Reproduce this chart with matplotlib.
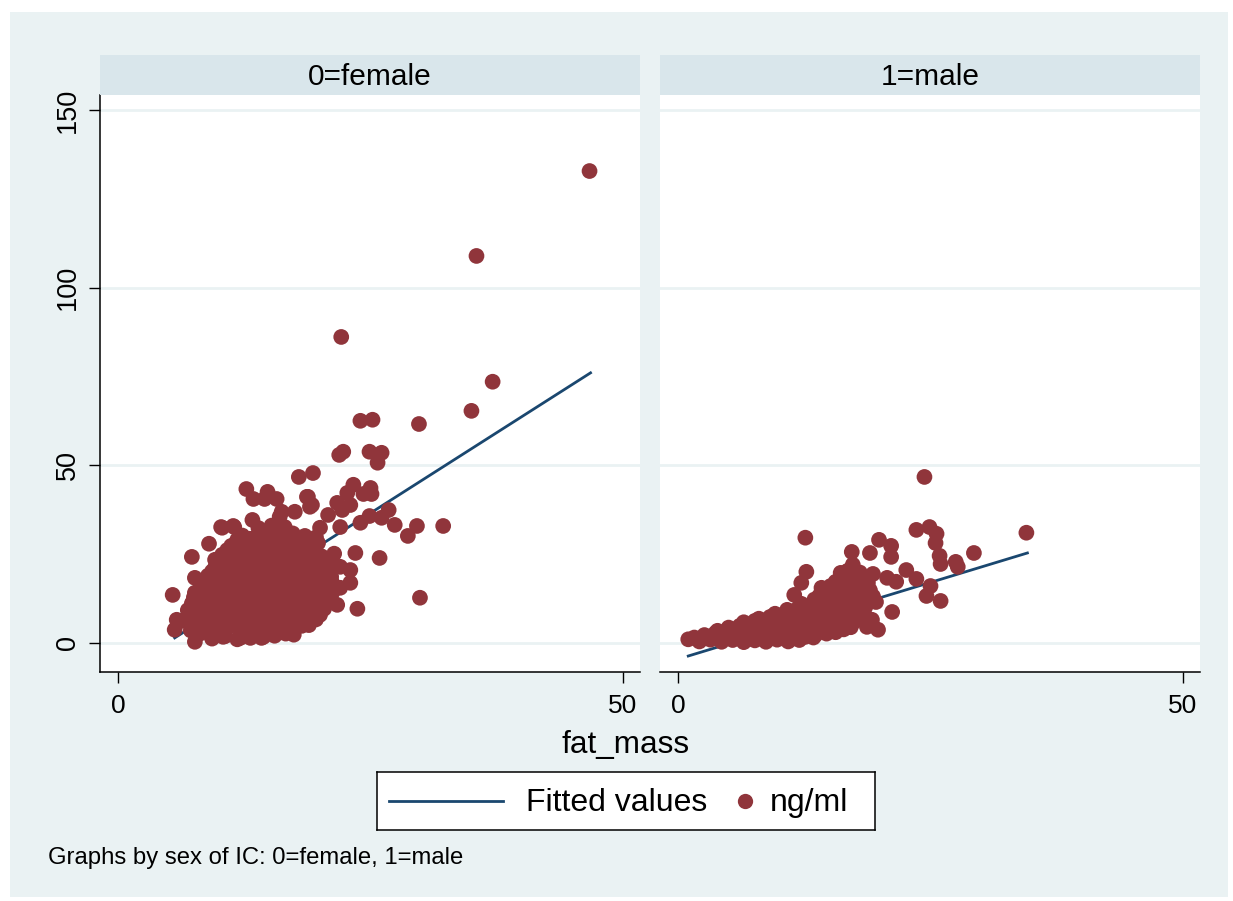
import matplotlib
matplotlib.use("Agg")
import matplotlib.pyplot as plt
import numpy as np
from matplotlib.patches import Rectangle
from matplotlib.lines import Line2D

plt.rcParams['font.family'] = ['Liberation Sans', 'DejaVu Sans']

#%% Data
panel_titles = ["0=female", "1=male"]
x_ticks = [0, 50]
y_ticks = [0, 50, 100, 150]

# female: (fat_mass, ng/ml)
female_points = [
    (46.7, 132.8), (35.5, 108.9), (22.1, 86.1), (37.1, 73.5), (35.0, 65.3), (29.8, 61.6),
    (24.0, 62.5), (25.2, 62.8), (21.9, 52.9), (22.3, 53.8), (24.9, 53.8), (26.1, 53.5),
    (25.7, 50.7), (17.9, 46.7), (19.3, 47.8), (12.7, 43.3), (13.4, 40.5), (14.8, 42.5),
    (14.5, 40.5), (15.7, 40.5), (16.2, 36.9), (17.5, 36.9), (18.7, 41.1), (19.2, 38.8),
    (16.0, 35.5), (13.3, 34.6), (11.4, 32.9), (10.2, 32.6), (23.3, 44.5), (22.7, 42.2),
    (25.0, 43.6), (24.3, 41.9), (25.1, 41.9), (18.8, 41.1), (21.7, 39.4), (23.0, 38.8),
    (22.2, 37.4), (19.0, 38.3), (20.8, 36.0), (26.8, 37.4), (24.9, 35.7), (26.1, 35.2),
    (27.4, 33.2), (29.6, 32.9), (32.2, 32.9), (22.0, 32.6), (20.0, 32.4), (24.0, 33.8),
    (28.7, 30.1), (25.9, 23.9), (23.5, 25.3), (22.0, 21.4), (23.0, 20.5), (21.2, 16.9),
    (23.0, 16.9), (22.0, 15.5), (29.9, 12.7), (21.7, 10.7), (23.7, 9.6), (20.0, 7.9),
    (18.7, 5.9), (20.2, 24.2), (5.4, 13.5), (7.3, 24.2), (9.0, 27.9), (10.3, 32.4),
    (11.5, 32.6), (9.6, 23.4), (7.6, 18.3), (7.6, 14.1), (7.4, 11.3), (5.8, 6.5),
    (5.6, 3.7), (7.6, 0.3), (8.8, 16.9), (9.1, 2.8), (10.4, 1.7), (12.1, 1.4),
    (13.1, 1.4), (14.4, 1.7),
]

female_cluster = [
    (9.3, 1.2), (10.6, 1.9), (11.8, 1.0), (13.0, 2.2), (14.2, 1.4), (15.5, 2.0), (16.6, 2.6),
    (8.1, 2.6), (10.0, 2.9), (12.4, 2.4), (14.8, 2.7), (17.4, 2.3),
    (7.2, 3.5), (8.4, 4.2), (9.7, 3.3), (10.9, 4.5), (12.1, 3.9), (13.4, 3.1), (14.6, 4.4),
    (15.9, 3.6), (17.1, 4.1), (18.2, 4.8),
    (7.8, 5.2), (9.0, 4.8), (10.3, 5.4), (11.5, 5.0), (12.7, 5.5), (14.0, 4.9), (15.2, 5.3),
    (16.5, 5.1), (17.7, 5.6), (18.9, 5.0),
    (6.4, 6.2), (7.6, 7.0), (8.8, 6.1), (10.1, 6.8), (11.3, 5.9), (12.5, 7.2), (13.8, 6.4),
    (15.0, 7.0), (16.2, 6.0), (17.5, 6.9), (18.7, 7.3), (19.6, 6.6),
    (7.0, 8.1), (8.2, 7.8), (9.5, 8.4), (10.7, 7.9), (11.9, 8.3), (13.2, 7.7), (14.4, 8.2),
    (15.6, 8.5), (16.9, 7.9), (18.1, 8.4), (19.3, 8.0),
    (6.9, 9.2), (8.1, 9.9), (9.3, 9.0), (10.6, 10.1), (11.8, 9.4), (13.0, 10.3), (14.3, 9.1),
    (15.5, 9.8), (16.7, 10.4), (18.0, 9.3), (19.2, 10.0), (20.4, 9.6),
    (7.3, 11.1), (8.5, 10.8), (9.8, 11.4), (11.0, 11.0), (12.2, 11.6), (13.5, 10.9), (14.7, 11.3),
    (15.9, 11.7), (17.2, 11.0), (18.4, 11.5), (19.6, 11.2), (20.7, 11.6),
    (7.5, 12.8), (8.7, 12.1), (9.9, 13.0), (11.1, 12.4), (12.4, 13.3), (13.6, 12.2), (14.8, 12.9),
    (16.1, 12.5), (17.3, 13.4), (18.5, 12.0), (19.8, 12.7), (21.0, 13.2),
    (7.9, 14.1), (9.1, 14.5), (10.3, 13.9), (11.6, 14.4), (12.8, 14.0), (14.0, 14.6), (15.3, 14.2),
    (16.5, 13.8), (17.7, 14.5), (19.0, 14.0), (20.2, 14.4), (21.2, 14.1),
    (8.2, 15.3), (9.4, 16.1), (10.6, 15.0), (11.9, 15.8), (13.1, 16.4), (14.3, 15.2), (15.6, 16.0),
    (16.8, 15.5), (18.0, 16.3), (19.3, 15.1), (20.5, 15.9), (21.6, 15.4),
    (8.6, 17.2), (9.8, 16.8), (11.0, 17.4), (12.2, 17.0), (13.5, 17.6), (14.7, 16.9), (15.9, 17.3),
    (17.2, 17.0), (18.4, 17.5), (19.6, 16.9), (20.7, 17.3),
    (8.9, 18.9), (10.1, 18.2), (11.3, 19.0), (12.6, 18.4), (13.8, 19.3), (15.0, 18.1), (16.3, 18.8),
    (17.5, 19.4), (18.7, 18.3), (20.0, 19.0), (21.1, 18.6),
    (9.3, 20.1), (10.5, 20.6), (11.7, 19.9), (13.0, 20.4), (14.2, 20.0), (15.4, 20.7), (16.7, 20.2),
    (17.9, 19.9), (19.1, 20.5), (20.3, 20.1),
    (9.6, 21.2), (10.8, 22.0), (12.0, 21.4), (13.3, 22.3), (14.5, 21.1), (15.7, 21.9), (17.0, 22.4),
    (18.2, 21.3), (19.4, 22.1), (20.7, 21.6),
    (10.0, 23.2), (11.2, 22.9), (12.4, 23.5), (13.7, 23.0), (14.9, 23.4), (16.1, 22.8), (17.4, 23.3),
    (18.6, 23.1), (19.8, 23.6), (21.0, 23.0),
    (10.3, 24.8), (11.5, 24.1), (12.8, 25.0), (14.0, 24.3), (15.2, 25.2), (16.5, 24.0), (17.7, 24.9),
    (18.9, 25.4), (20.1, 24.4), (21.4, 25.1),
    (10.8, 26.1), (12.0, 26.5), (13.2, 25.9), (14.5, 26.4), (15.7, 26.0), (16.9, 26.6), (18.2, 26.1),
    (19.4, 26.5),
    (11.2, 27.3), (12.4, 28.0), (13.7, 27.1), (14.9, 28.2), (16.1, 27.6), (17.4, 28.3), (18.6, 27.4),
    (19.8, 28.1),
    (11.8, 29.0), (13.0, 29.3), (14.3, 28.8), (15.5, 29.2), (16.7, 28.9), (18.0, 29.4), (19.1, 28.9),
    (12.3, 30.2), (13.6, 29.6), (14.8, 30.6), (16.0, 29.9), (17.3, 30.8), (18.5, 30.1), (19.6, 29.7),
    (13.9, 32.3), (15.2, 33.0), (16.5, 32.6),
]

# male: (fat_mass, ng/ml)
male_points = [
    (24.4, 46.7), (34.5, 31.0), (23.6, 31.8), (24.9, 32.6), (25.6, 30.7), (25.5, 28.1),
    (29.3, 25.3), (27.5, 22.8), (27.7, 21.4), (25.9, 24.5), (26.0, 22.2), (25.0, 16.0),
    (24.6, 13.2), (26.0, 11.8), (12.6, 29.6), (12.7, 20.0), (12.2, 16.9), (11.5, 13.5),
    (14.2, 15.5), (16.1, 19.7), (17.2, 25.6), (17.3, 22.0), (17.8, 19.7), (19.0, 25.3),
    (19.9, 29.0), (21.1, 27.3), (21.1, 24.2), (19.3, 19.4), (20.7, 18.3), (21.6, 17.2),
    (22.6, 20.5), (23.6, 18.0), (21.2, 8.7), (18.7, 4.5), (19.8, 3.7), (19.2, 6.5),
    (18.1, 16.9), (18.4, 12.9), (19.6, 11.5),
]

male_cluster = [
    (1.0, 1.0), (2.1, 0.4), (3.2, 0.9), (4.3, 0.3), (5.4, 0.8), (6.5, 0.2), (7.6, 0.7),
    (8.7, 0.3), (9.8, 0.9), (10.9, 0.4), (12.0, 0.8),
    (1.6, 1.5), (2.7, 1.3), (3.8, 1.7), (4.9, 1.4), (6.0, 1.6), (7.1, 1.2), (8.2, 1.7),
    (9.3, 1.4), (10.4, 1.6), (11.5, 1.3), (12.6, 1.7), (13.4, 1.5),
    (2.6, 2.2), (3.7, 2.8), (4.8, 2.1), (5.9, 2.9), (7.0, 2.3), (8.1, 2.7), (9.2, 2.0),
    (10.3, 2.8), (11.4, 2.4), (12.5, 2.9), (13.6, 2.2), (14.7, 2.6), (15.6, 3.0),
    (3.9, 3.4), (5.5, 3.7), (6.6, 3.3), (7.7, 3.8), (8.8, 3.5), (9.9, 3.6), (11.0, 3.3),
    (12.1, 3.8), (13.2, 3.4), (14.3, 3.7), (15.4, 3.5), (16.4, 3.8),
    (5.0, 4.3), (6.1, 4.8), (7.2, 4.1), (8.3, 4.9), (9.4, 4.4), (10.5, 4.7), (11.6, 4.2),
    (12.7, 5.0), (13.8, 4.5), (14.9, 4.1), (16.0, 4.8), (17.1, 4.4),
    (6.5, 5.8), (7.6, 6.2), (8.7, 5.9), (9.8, 6.1), (10.9, 5.7), (12.0, 6.3), (13.1, 5.9),
    (14.2, 6.1), (15.3, 5.8), (16.4, 6.2), (17.4, 5.9),
    (8.0, 6.8), (9.1, 7.3), (10.2, 6.7), (11.3, 7.4), (12.4, 6.9), (13.5, 7.2), (14.6, 6.6),
    (15.7, 7.5), (16.8, 7.0), (17.8, 7.4),
    (9.6, 8.2), (10.7, 8.5), (11.8, 8.1), (12.9, 8.6), (14.0, 8.3), (15.1, 8.4), (16.2, 8.0),
    (17.3, 8.5), (18.2, 8.2),
    (10.8, 9.3), (11.9, 9.8), (13.0, 9.2), (14.1, 9.9), (15.2, 9.4), (16.3, 9.7), (17.4, 9.1),
    (18.5, 9.8),
    (12.2, 11.0), (13.3, 10.7), (14.4, 11.2), (15.5, 10.8), (16.6, 11.1), (17.7, 10.6), (18.7, 11.0),
    (13.5, 12.2), (14.6, 11.7), (15.7, 12.4), (16.8, 11.9), (17.9, 12.3), (18.9, 11.8),
    (14.0, 13.3), (15.1, 13.1), (16.2, 13.5), (17.3, 13.2), (18.4, 13.4), (19.3, 13.1),
    (14.6, 14.7), (15.7, 14.2), (16.8, 14.9), (17.9, 14.4), (19.0, 14.8),
    (15.1, 16.0), (16.2, 15.8), (17.3, 16.2), (18.4, 15.9),
    (15.6, 17.2), (16.7, 16.8), (17.6, 17.4), (18.8, 16.9),
    (16.1, 18.5), (17.2, 18.7), (18.3, 18.4),
    (16.8, 20.3), (18.0, 19.8),
]

# fitted values (ends of the regression line)
fit_female_x = [5.6, 46.8]
fit_female_y = [1.4, 76.0]
fit_male_x = [1.0, 34.6]
fit_male_y = [-3.7, 25.3]

#%% Styling
W, H = 1233, 901
bg_color = '#EAF2F3'
strip_color = '#D9E6EB'
grid_color = '#EAF2F3'
navy = '#1A476F'
maroon = '#90353B'

fig = plt.figure(figsize=(W / 100, H / 100), dpi=100)
fig.patch.set_facecolor('white')
fig.patches.append(Rectangle((10 / W, 1 - 897 / H), 1218 / W, 885 / H,
                             transform=fig.transFigure, facecolor=bg_color,
                             edgecolor='none', zorder=-5))

def px_box(x0, y0, x1, y1):
    return [x0 / W, 1 - y1 / H, (x1 - x0) / W, (y1 - y0) / H]

panels = [
    (female_points + female_cluster, fit_female_x, fit_female_y, 100),
    (male_points + male_cluster, fit_male_x, fit_male_y, 660),
]

for i, (pts, fx, fy, left) in enumerate(panels):
    ax = fig.add_axes(px_box(left, 95, left + 540, 672))
    ax.set_facecolor('white')
    pts = np.array(pts)
    ax.plot(fx, fy, color=navy, lw=2, zorder=2)
    ax.scatter(pts[:, 0], pts[:, 1], s=128, color=maroon, edgecolors='none', zorder=3)
    ax.set_xlim(-1.8, 51.7)
    ax.set_ylim(-8.2, 154.2)
    ax.set_xticks(x_ticks)
    ax.set_yticks(y_ticks)
    ax.yaxis.grid(True, color=grid_color, lw=2)
    ax.set_axisbelow(True)
    for s in ['top', 'right']:
        ax.spines[s].set_visible(False)
    ax.spines['bottom'].set_linewidth(1.1)
    ax.spines['left'].set_linewidth(1.1)
    ax.tick_params(axis='x', length=8, width=1, pad=8, labelsize=19)
    if i == 0:
        ax.tick_params(axis='y', length=8, width=1, pad=6, labelsize=19.5)
        for lab in ax.get_yticklabels():
            lab.set_rotation(90)
            lab.set_va('center')
    else:
        ax.spines['left'].set_visible(False)
        ax.tick_params(axis='y', left=False, labelleft=False)

    # strip header
    sax = fig.add_axes(px_box(left, 55, left + 540, 95))
    sax.set_facecolor(strip_color)
    sax.set_xticks([])
    sax.set_yticks([])
    for s in sax.spines.values():
        s.set_visible(False)
    sax.text(0.5, 0.45, panel_titles[i], transform=sax.transAxes, ha='center',
             va='center', fontsize=21.5)

fig.text(626 / W, 1 - 745 / H, 'fat_mass', ha='center', va='center', fontsize=22.7)

# legend box
lax = fig.add_axes(px_box(377, 772, 875, 830))
lax.set_facecolor('white')
lax.set_xlim(0, 1)
lax.set_ylim(0, 1)
lax.set_xticks([])
lax.set_yticks([])
for s in lax.spines.values():
    s.set_linewidth(1.1)
lax.add_line(Line2D([0.024, 0.253], [0.5, 0.5], color=navy, lw=2))
lax.text(0.3, 0.47, 'Fitted values', va='center', ha='left', fontsize=23)
lax.plot([0.739], [0.5], 'o', color=maroon, markersize=11, markeredgewidth=0)
lax.text(0.789, 0.47, 'ng/ml', va='center', ha='left', fontsize=23)

fig.text(48 / W, 1 - 858 / H, 'Graphs by sex of IC: 0=female, 1=male',
         ha='left', va='center', fontsize=17.2)

fig.savefig('out.png', dpi=100, facecolor=fig.get_facecolor())
